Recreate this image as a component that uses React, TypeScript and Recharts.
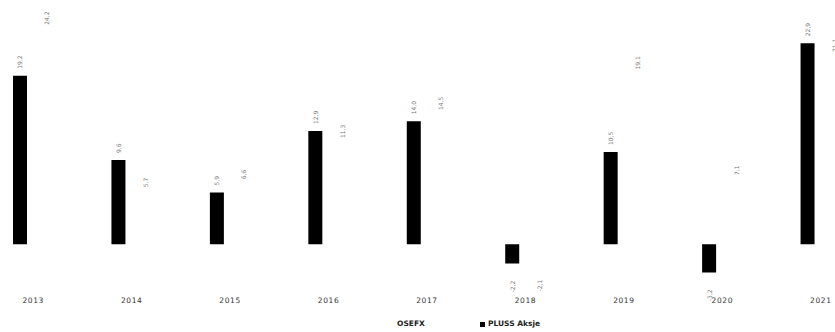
import React from 'react';
import { BarChart, Bar, XAxis, YAxis, LabelList, Legend } from 'recharts';

const years = ['2013', '2014', '2015', '2016', '2017', '2018', '2019', '2020', '2021'];
const plussAksje = [19.2, 9.6, 5.9, 12.9, 14.0, -2.2, 10.5, -3.2, 22.9];
const osefx = [24.2, 5.7, 6.6, 11.3, 14.5, -2.1, 19.1, 7.1, 21.1];

const data = years.map((y, i) => ({ year: y, pluss: plussAksje[i], osefx: osefx[i] }));

const fmt = (v: number) => v.toFixed(1).replace('.', ',');

const ValueLabel = (props: any) => {
  const { x, y, width, height, value } = props;
  const cx = Number(x) + Number(width) / 2;
  const top = Math.min(Number(y), Number(y) + Number(height));
  const bottom = Math.max(Number(y), Number(y) + Number(height));
  const neg = Number(value) < 0;
  const ty = neg ? bottom + 17 : top - 7;
  return (
    <text
      x={cx}
      y={ty}
      transform={`rotate(-90, ${cx}, ${ty})`}
      textAnchor={neg ? 'end' : 'start'}
      dominantBaseline="central"
      fontSize={6}
      fill="#777"
      fontFamily="DejaVu Sans, sans-serif"
    >
      {fmt(Number(value))}
    </text>
  );
};

const LegendContent = () => (
  <div style={{ position: 'relative', height: 14, fontFamily: 'DejaVu Sans, sans-serif', fontSize: 7.5, fontWeight: 700, color: '#222' }}>
    <span style={{ position: 'absolute', left: 405, top: 3, width: 5, height: 5, background: '#fff' }} />
    <span style={{ position: 'absolute', left: 413, top: 0, whiteSpace: 'nowrap' }}>OSEFX</span>
    <span style={{ position: 'absolute', left: 496, top: 3, width: 5, height: 5, background: '#000' }} />
    <span style={{ position: 'absolute', left: 504, top: 0, whiteSpace: 'nowrap' }}>PLUSS Aksje</span>
  </div>
);

export default function App() {
  return (
    <div style={{ position: 'absolute', left: 0, top: 0, width: 835, height: 332, overflow: 'hidden', background: '#fff' }}>
      <div style={{ position: 'absolute', left: -16, top: 0 }}>
        <BarChart
          width={886}
          height={332}
          data={data}
          margin={{ top: 16, right: 0, left: 0, bottom: 32.6 }}
          barSize={14}
          barGap={13}
        >
          <XAxis
            dataKey="year"
            axisLine={false}
            tickLine={false}
            height={20}
            tickMargin={12}
            tick={{ fontSize: 7.5, fill: '#333', fontFamily: 'DejaVu Sans, sans-serif', letterSpacing: 0.6 }}
            interval={0}
          />
          <YAxis hide domain={[-4, 26]} allowDataOverflow />
          <Legend
            verticalAlign="middle"
            align="center"
            wrapperStyle={{ top: 319, left: 0, width: 886, height: 14 }}
            content={<LegendContent />}
          />
          <Bar dataKey="pluss" name="PLUSS Aksje" fill="#000" isAnimationActive={false}>
            <LabelList dataKey="pluss" content={<ValueLabel />} />
          </Bar>
          <Bar dataKey="osefx" name="OSEFX" fill="#fff" isAnimationActive={false}>
            <LabelList dataKey="osefx" content={<ValueLabel />} />
          </Bar>
        </BarChart>
      </div>
    </div>
  );
}
